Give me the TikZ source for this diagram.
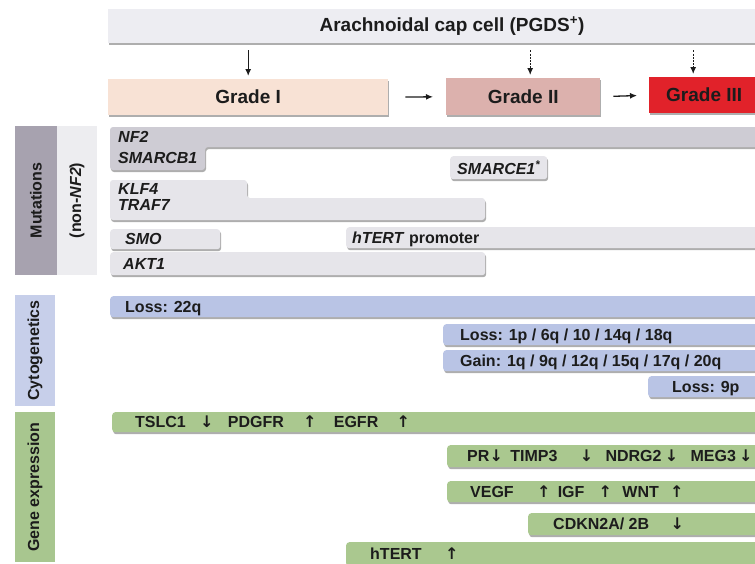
\documentclass[tikz,border=0pt]{standalone}
\usepackage{fontspec}
\setmainfont{Liberation Sans}
\newfontfamily\arrfont{DejaVu Sans}
\usetikzlibrary{arrows.meta,positioning,calc,shadows}
\definecolor{capgray}{HTML}{EDEDF2}
\definecolor{gradeone}{HTML}{F8E2D5}
\definecolor{gradetwo}{HTML}{DCB1AD}
\definecolor{gradethree}{HTML}{E1222A}
\definecolor{mutside}{HTML}{A7A2AF}
\definecolor{mutcol}{HTML}{EDEDF0}
\definecolor{mutdark}{HTML}{CECCD4}
\definecolor{mutlight}{HTML}{E6E5EA}
\definecolor{cytoside}{HTML}{C7CFEA}
\definecolor{cytobar}{HTML}{B9C4E5}
\definecolor{geneside}{HTML}{A8C68F}
\definecolor{genebar}{HTML}{AAC88F}
\definecolor{ink}{HTML}{1C1C1C}
\newcommand{\upa}{\makebox[8pt]{\arrfont\bfseries ↑}}
\newcommand{\dna}{\makebox[8pt]{\arrfont\bfseries ↓}}

\begin{document}
\begin{tikzpicture}[x=1pt, y=-1pt,
    font=\fontsize{16}{18}\selectfont\bfseries, text=ink,
    boxshadow/.style={drop shadow={shadow xshift=1pt, shadow yshift=-2pt, opacity=.45, fill=black!70}},
    box/.style={boxshadow, anchor=north west, inner sep=0pt},
    bar/.style={box, rounded corners=3pt},
    sidebox/.style={rotate=90, inner sep=0pt},
    lbl/.style={inner sep=0pt, text height=11.5pt, text depth=0pt},
    gene/.style={lbl, anchor=west, font=\fontsize{16}{18}\selectfont\bfseries\itshape},
    head/.style={font=\fontsize{19}{21}\selectfont\bfseries},
    arr/.style={-{Latex[length=7pt,width=6pt]}, line width=1.3pt, draw=ink},
    dasharr/.style={arr, line width=1.1pt, dash pattern=on 2pt off 1.2pt}
]
\clip (0,0) rectangle (755,563);

% cell of origin and grades
\node[box, fill=capgray, minimum width=662pt, minimum height=34pt] (cap) at (108,9) {};
\node[head] (captxt) at (452,26) {Arachnoidal cap cell (PGDS\textsuperscript{+})};
\node[box, head, fill=gradeone, minimum width=280pt, minimum height=36pt] (g1) at (108,79) {Grade I};
\node[box, head, fill=gradetwo, minimum width=154pt, minimum height=37pt] (g2) at (446,78) {Grade II};
\node[box, head, fill=gradethree, minimum width=110pt, minimum height=36pt] (g3) at (649,77) {Grade III};
\coordinate (d2) at ($(g2.north)+(7,0)$);
\coordinate (d3) at ($(g3.north)+(-11,0)$);

\draw[arr, shorten <=7pt, shorten >=3pt] (g1.north |- cap.south) -- (g1.north);
\draw[dasharr, shorten <=7pt, shorten >=3pt] (d2 |- cap.south) -- (d2);
\draw[dasharr, shorten <=7pt, shorten >=3pt] (d3 |- cap.south) -- (d3);
\draw[arr, shorten <=17pt, shorten >=13pt] (g1.east) -- (g2.west);
\draw[arr, shorten <=13pt, shorten >=12pt] (g2.east) -- (g3.west);

% side labels
\node[sidebox, fill=mutside, minimum width=149pt, minimum height=42pt] (mutlab) at (36,200.5) {Mutations};
\node[sidebox, fill=mutcol, minimum width=149pt, minimum height=40pt] (nonlab) at (77,200.5) {(non-\textit{NF2})};
\node[sidebox, fill=cytoside, minimum width=111pt, minimum height=40pt] (cytolab) at (35,350.5) {Cytogenetics};
\node[sidebox, fill=geneside, minimum width=150pt, minimum height=40pt] (genelab) at (35,487) {Gene expression};

% mutations
\path[boxshadow, fill=mutdark, rounded corners=3pt] (110,127) -- (772,127) -- (772,147) -- (205,147) -- (205,170) -- (110,170) -- cycle;
\node[gene] (nf2) at (118,137) {NF2};
\node[gene] (smarcb) at (118,158) {SMARCB1};
\node[bar, fill=mutlight, minimum width=97pt, minimum height=23pt, font=\fontsize{16}{18}\selectfont\bfseries\itshape] (smarce) at (450,156) {SMARCE1\textsuperscript{*}};
\path[boxshadow, fill=mutlight, rounded corners=3pt] (110,180) -- (247,180) -- (247,198) -- (485,198) -- (485,220) -- (110,220) -- cycle;
\node[gene] (klf) at (118,188.5) {KLF4};
\node[gene] (traf) at (118,205) {TRAF7};
\node[bar, fill=mutlight, minimum width=110pt, minimum height=20pt] (smo) at (110,229) {};
\node[gene, right=15pt of smo.west] (smotxt) {SMO};
\node[bar, fill=mutlight, minimum width=426pt, minimum height=21pt] (tertp) at (346,227) {};
\node[lbl, right=6pt of tertp.west] (tertptxt) {\textit{hTERT} promoter};
\node[bar, fill=mutlight, minimum width=375pt, minimum height=23pt] (akt) at (110,252) {};
\node[gene, right=13pt of akt.west] (akttxt) {AKT1};

% cytogenetics
\node[bar, fill=cytobar, minimum width=662pt, minimum height=21pt] (c22q) at (110,296) {};
\node[lbl, right=15pt of c22q.west] (c22qtxt) {Loss: 22q};
\node[bar, fill=cytobar, minimum width=329pt, minimum height=21pt] (closs) at (443,324) {};
\node[lbl, right=17pt of closs.west] (closstxt) {Loss: 1p / 6q / 10 / 14q / 18q};
\node[bar, fill=cytobar, minimum width=329pt, minimum height=21pt] (cgain) at (443,350) {};
\node[lbl, right=17pt of cgain.west] (cgaintxt) {Gain: 1q / 9q / 12q / 15q / 17q / 20q};
\node[bar, fill=cytobar, minimum width=124pt, minimum height=21pt] (c9p) at (648,376) {};
\node[lbl, right=24pt of c9p.west] (c9ptxt) {Loss: 9p};

% gene expression
\node[bar, fill=genebar, minimum width=660pt, minimum height=20pt] (tslc) at (112,412) {};
\node[lbl, right=23pt of tslc.west] (tslctxt) {TSLC1\hspace{17pt}\dna\hspace{17pt}PDGFR\hspace{22pt}\upa\hspace{20pt}EGFR\hspace{21pt}\upa};
\node[bar, fill=genebar, minimum width=325pt, minimum height=22pt] (prg) at (447,445) {};
\node[lbl, right=20pt of prg.west] (prgtxt) {PR\hspace{3pt}\dna\hspace{10pt}TIMP3\hspace{25pt}\dna\hspace{15pt}NDRG2\hspace{6pt}\dna\hspace{15pt}MEG3\hspace{6pt}\dna};
\node[bar, fill=genebar, minimum width=325pt, minimum height=21pt] (vegf) at (447,481) {};
\node[lbl, right=23pt of vegf.west] (vegftxt) {VEGF\hspace{26pt}\upa\hspace{10pt}IGF\hspace{17pt}\upa\hspace{13pt}WNT\hspace{14pt}\upa};
\node[bar, fill=genebar, minimum width=244pt, minimum height=22pt] (cdkn) at (528,513) {};
\node[lbl, right=25pt of cdkn.west] (cdkntxt) {CDKN2A/ 2B\hspace{24pt}\dna};
\node[bar, fill=genebar, minimum width=426pt, minimum height=24pt] (tert) at (346,542) {};
\node[lbl, right=24pt of tert.west] (terttxt) {hTERT\hspace{26pt}\upa};
\end{tikzpicture}
\end{document}
